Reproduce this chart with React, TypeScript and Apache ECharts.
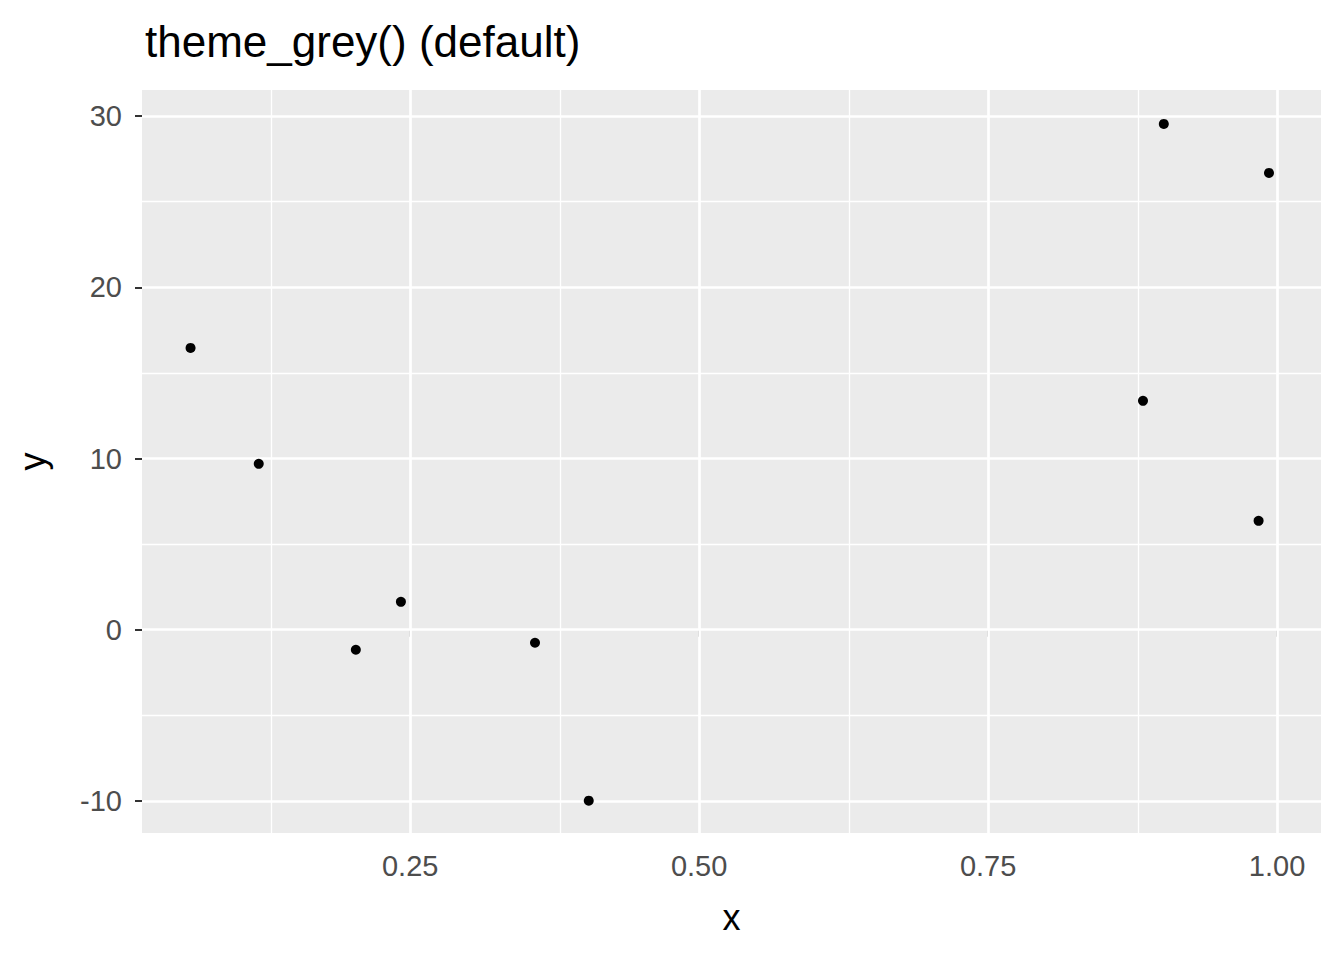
import React, { useEffect, useRef } from 'react';
import * as echarts from 'echarts';

// Points
const xValues = [0.06, 0.119, 0.203, 0.242, 0.358, 0.4045, 0.884, 0.902, 0.984, 0.993];
const yValues = [16.46, 9.69, -1.17, 1.63, -0.76, -9.98, 13.37, 29.54, 6.36, 26.68];

const xTicks = [0.25, 0.5, 0.75, 1.0];
const xMinor = [0.125, 0.375, 0.625, 0.875];
const yTicks = [-10, 0, 10, 20, 30];
const yMinor = [-5, 5, 15, 25];

const App: React.FC = () => {
    const chartRef = useRef<HTMLDivElement>(null);

    useEffect(() => {
        if (!chartRef.current) return;
        const chart = echarts.init(chartRef.current, null, { renderer: 'svg' });

        const gridLines = [
            ...xMinor.map((v) => ({ xAxis: v, lineStyle: { width: 1.3 } })),
            ...xTicks.map((v) => ({ xAxis: v, lineStyle: { width: 2.7 } })),
            ...yMinor.map((v) => ({ yAxis: v, lineStyle: { width: 1.3 } })),
            ...yTicks.map((v) => ({ yAxis: v, lineStyle: { width: 2.7 } })),
        ];

        const option: echarts.EChartsOption = {
            animation: false,
            title: {
                text: 'theme_grey() (default)',
                left: 140,
                top: 14,
                textStyle: { fontFamily: 'Arial, Liberation Sans', fontSize: 44, fontWeight: 'normal', color: '#000' },
            },
            grid: {
                left: 142, right: 23, top: 90, bottom: 127,
                show: true, backgroundColor: '#EBEBEB', borderWidth: 0,
            },
            xAxis: {
                type: 'value', min: 0.018, max: 1.038,
                name: 'x', nameLocation: 'middle', nameGap: 66,
                nameTextStyle: { fontFamily: 'Arial, Liberation Sans', fontSize: 36, color: '#000' },
                axisLine: { show: false },
                splitLine: { show: false },
                axisTick: { show: true, customValues: xTicks, length: 7, lineStyle: { color: '#333', width: 2 } },
                axisLabel: {
                    customValues: xTicks, margin: 18,
                    fontFamily: 'Arial, Liberation Sans', fontSize: 29, color: '#4D4D4D',
                    formatter: (v: number) => v.toFixed(2),
                },
            },
            yAxis: {
                type: 'value', min: -11.87, max: 31.52,
                name: 'y', nameLocation: 'middle', nameGap: 92, nameRotate: 90,
                nameTextStyle: { fontFamily: 'Arial, Liberation Sans', fontSize: 36, color: '#000' },
                axisLine: { show: false },
                splitLine: { show: false },
                axisTick: { show: true, customValues: yTicks, length: 7, lineStyle: { color: '#333', width: 2 } },
                axisLabel: {
                    customValues: yTicks, margin: 20,
                    fontFamily: 'Arial, Liberation Sans', fontSize: 29, color: '#4D4D4D',
                },
            },
            series: [
                {
                    type: 'scatter', data: [], z: 1, silent: true,
                    markLine: {
                        silent: true, symbol: 'none', label: { show: false },
                        lineStyle: { color: '#FFFFFF', type: 'solid' },
                        data: gridLines as any,
                    },
                },
                {
                    type: 'scatter', z: 5, symbolSize: 10,
                    itemStyle: { color: '#000', opacity: 1 },
                    data: xValues.map((x, i) => [x, yValues[i]]),
                },
            ],
        };
        chart.setOption(option);
        return () => chart.dispose();
    }, []);

    return <div ref={chartRef} style={{ position: 'absolute', left: 0, top: 0, width: 1344, height: 960 }} />;
};

export default App;
